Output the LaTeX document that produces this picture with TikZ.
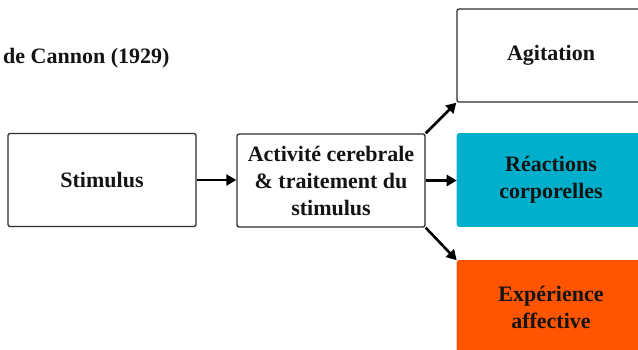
\documentclass[tikz,border=0pt]{standalone}
\usepackage{fontspec}
\setmainfont{Liberation Serif}[BoldFont={Liberation Serif Bold}]
\usetikzlibrary{arrows.meta}
\definecolor{boxline}{HTML}{2E2E2E}
\definecolor{bodycyan}{HTML}{00AFCB}
\definecolor{affectorange}{HTML}{FF5400}
\definecolor{darktext}{HTML}{141414}
\begin{document}
\begin{tikzpicture}[x=1pt,y=-1pt,
  every node/.style={font=\fontsize{22}{27}\selectfont\bfseries, text=darktext, align=center},
  stagebox/.style={rectangle, rounded corners=2pt, minimum width=188pt, minimum height=93pt, inner sep=2pt},
  outlined/.style={stagebox, draw=boxline, line width=1.3pt, fill=white},
  filledbox/.style={stagebox, draw=#1, line width=0.6pt, fill=#1},
  flow/.style={line width=2.6pt, -{Triangle[length=10pt,width=11pt]}}]
  \useasboundingbox (0,0) rectangle (638,349);
  \clip (0,0) rectangle (638,349);

  % heading
  \node[anchor=base west, inner sep=0pt] (title) at (3,63) {de Cannon (1929)};

  % boxes
  \node[outlined] (stim) at (102,180) {Stimulus};
  \node[outlined] (act) at (331,180.5) {Activité cerebrale\\ \& traitement du\\ stimulus};
  \node[outlined] (agit) at (551,55.5) {Agitation};
  \node[filledbox=bodycyan] (reac) at (551,180) {Réactions\\ corporelles};
  \node[filledbox=affectorange] (exp) at (551,307) {Expérience\\ affective};

  % connectors
  \draw[flow] (stim.east) -- (stim.east -| act.west);
  \draw[flow] (act.north east) -- (agit.south west);
  \draw[flow] (act.east) -- (act.east -| reac.west);
  \draw[flow] (act.south east) -- (exp.north west);
\end{tikzpicture}
\end{document}
